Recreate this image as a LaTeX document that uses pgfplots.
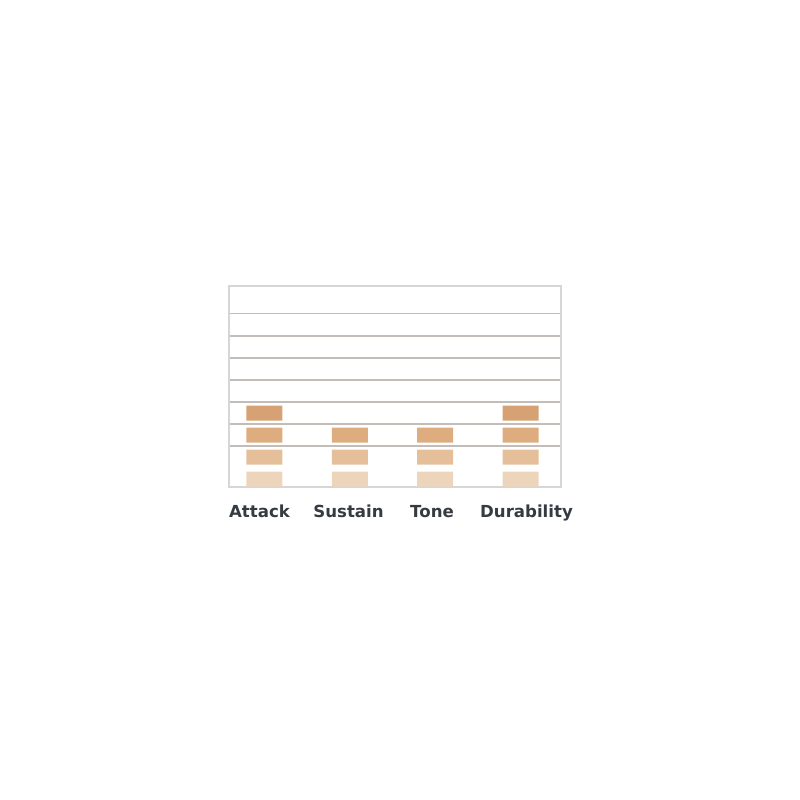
\documentclass[border=0pt]{standalone}
\usepackage{pgfplots}
\pgfplotsset{compat=1.18}
\usepackage{pgfplotstable}
\usepackage{fontspec}
\setmainfont{DejaVu Sans}

\definecolor{lvlone}{HTML}{EDD5BC}
\definecolor{lvltwo}{HTML}{E5BF99}
\definecolor{lvlthree}{HTML}{DDAD80}
\definecolor{lvlfour}{HTML}{D6A273}
\definecolor{gridgray}{HTML}{C2BDB8}
\definecolor{framegray}{HTML}{D6D6D6}
\definecolor{labelgray}{HTML}{363B41}

% each rating is drawn as a stack of blocks: gN = blank gap, bN = block
\pgfplotstableread{
x  g0   b1   g1   b2   g2   b3   g3   b4
0  0.03 0.68 0.32 0.68 0.32 0.68 0.32 0.68
1  0.03 0.68 0.32 0.68 0.32 0.68 0.32 0
2  0.03 0.68 0.32 0.68 0.32 0.68 0.32 0
3  0.03 0.68 0.32 0.68 0.32 0.68 0.32 0.68
}\ratings

\begin{document}
\begin{tikzpicture}
\useasboundingbox (0,0) rectangle (400pt,400pt);
\begin{axis}[
  at={(114.5pt,156.35pt)}, anchor=south west,
  scale only axis, width=166pt, height=100.65pt,
  ybar stacked, bar width=18pt,
  xmin=-0.4145, xmax=3.473, ymin=0, ymax=9.15,
  xtick={-0.057,0.985,1.963,3.069},
  xticklabels={Attack,Sustain,Tone,Durability},
  xticklabel style={font=\bfseries\fontsize{8.3}{10}\selectfont, text=labelgray, yshift=-5.5pt},
  ytick={1.89,2.89,3.89,4.89,5.89,6.89,7.9},
  yticklabels={},
  major tick length=0,
  ymajorgrids, grid style={gridgray, line width=0.8pt},
  axis line style={framegray, line width=0.9pt},
]
\addplot[draw=none, fill=none] table[x=x, y=g0] {\ratings};
\addplot[draw=none, fill=lvlone] table[x=x, y=b1] {\ratings};
\addplot[draw=none, fill=none] table[x=x, y=g1] {\ratings};
\addplot[draw=none, fill=lvltwo] table[x=x, y=b2] {\ratings};
\addplot[draw=none, fill=none] table[x=x, y=g2] {\ratings};
\addplot[draw=none, fill=lvlthree] table[x=x, y=b3] {\ratings};
\addplot[draw=none, fill=none] table[x=x, y=g3] {\ratings};
\addplot[draw=none, fill=lvlfour] table[x=x, y=b4] {\ratings};
\end{axis}
\end{tikzpicture}
\end{document}
